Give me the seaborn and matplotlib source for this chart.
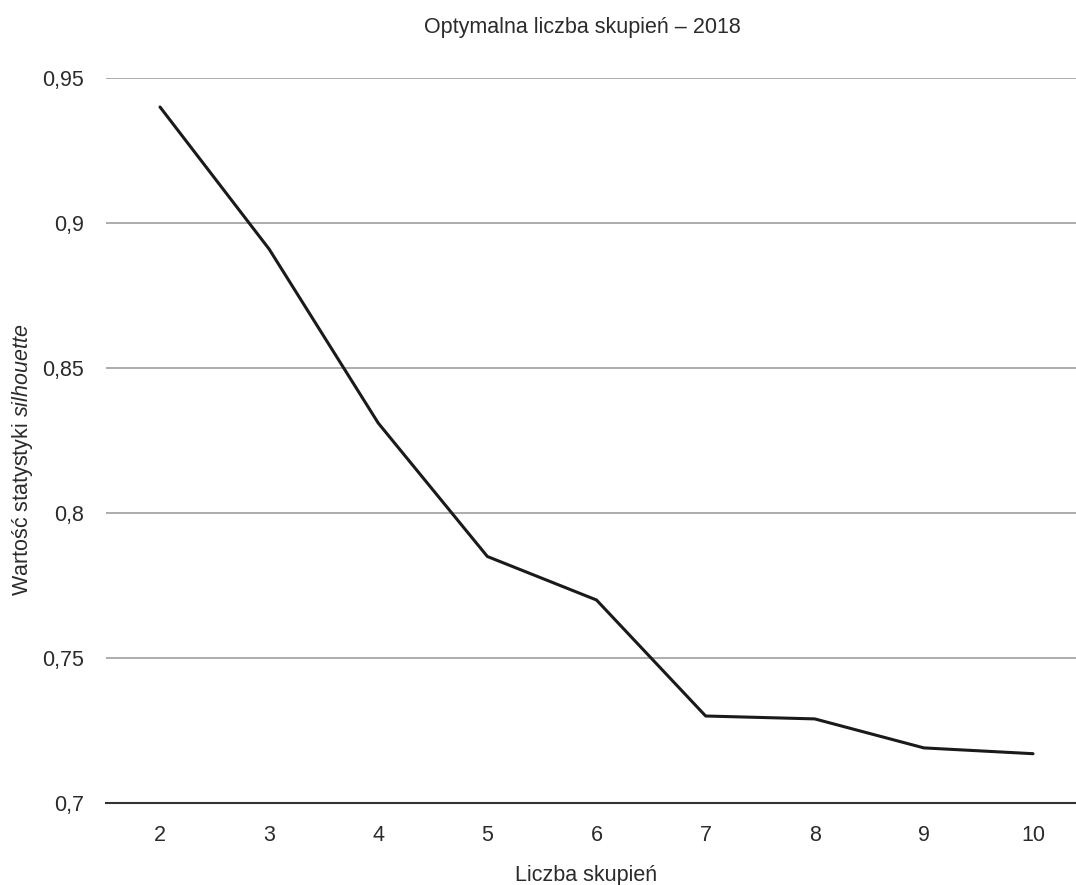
import matplotlib
matplotlib.use('Agg')
import matplotlib.pyplot as plt
import seaborn as sns
import pandas as pd
from matplotlib.ticker import FuncFormatter, FixedLocator

# dane
liczba_skupien = ['2', '3', '4', '5', '6', '7', '8', '9', '10']
silhouette = [0.940, 0.891, 0.831, 0.785, 0.770, 0.730, 0.729, 0.719, 0.717]
y_ticks = [0.7, 0.75, 0.8, 0.85, 0.9, 0.95]

sns.set_theme(style='white')
plt.rcParams['font.family'] = ['Liberation Sans', 'DejaVu Sans']
plt.rcParams['mathtext.fontset'] = 'custom'
plt.rcParams['mathtext.rm'] = 'Liberation Sans'
plt.rcParams['mathtext.it'] = 'Liberation Sans:italic'

FS = 15.5
TXT = '#2b2b2b'

df = pd.DataFrame({'k': liczba_skupien, 's': silhouette})

fig = plt.figure(figsize=(10.76, 8.85), dpi=100)
ax = fig.add_axes([106 / 1076, 82 / 885, 970 / 1076, 725 / 885])

sns.lineplot(data=df, x='k', y='s', ax=ax, color='#1a1a1a', linewidth=2.2)

ax.set_xlim(-0.495, 8.394)
ax.set_ylim(0.7, 0.95)
ax.yaxis.set_major_locator(FixedLocator(y_ticks))
ax.yaxis.set_major_formatter(FuncFormatter(lambda v, p: f'{v:g}'.replace('.', ',')))
ax.grid(axis='y', color='#a6a6a6', linewidth=1.3)
ax.set_axisbelow(True)

for s in ['left', 'right', 'top']:
    ax.spines[s].set_visible(False)
ax.spines['bottom'].set_color('#333333')
ax.spines['bottom'].set_linewidth(1.5)
ax.spines['bottom'].set_zorder(3)

ax.tick_params(axis='both', length=0, labelsize=FS, colors=TXT)
ax.tick_params(axis='y', pad=16)
ax.tick_params(axis='x', pad=15.5)

ax.set_xlabel('Liczba skupień', fontsize=FS, color=TXT, va='center')
ax.xaxis.set_label_coords((586 - 106) / 970, (803 - 875) / 725)
ax.set_ylabel(r'Wartość statystyki $\it{silhouette}$', fontsize=FS, color=TXT, va='center')
ax.yaxis.set_label_coords((23 - 106) / 970, (803 - 460) / 725)

fig.text(582 / 1076, 1 - 28 / 885, 'Optymalna liczba skupień – 2018',
         ha='center', va='center', fontsize=FS, color=TXT)

fig.savefig('out.png', dpi=100)
